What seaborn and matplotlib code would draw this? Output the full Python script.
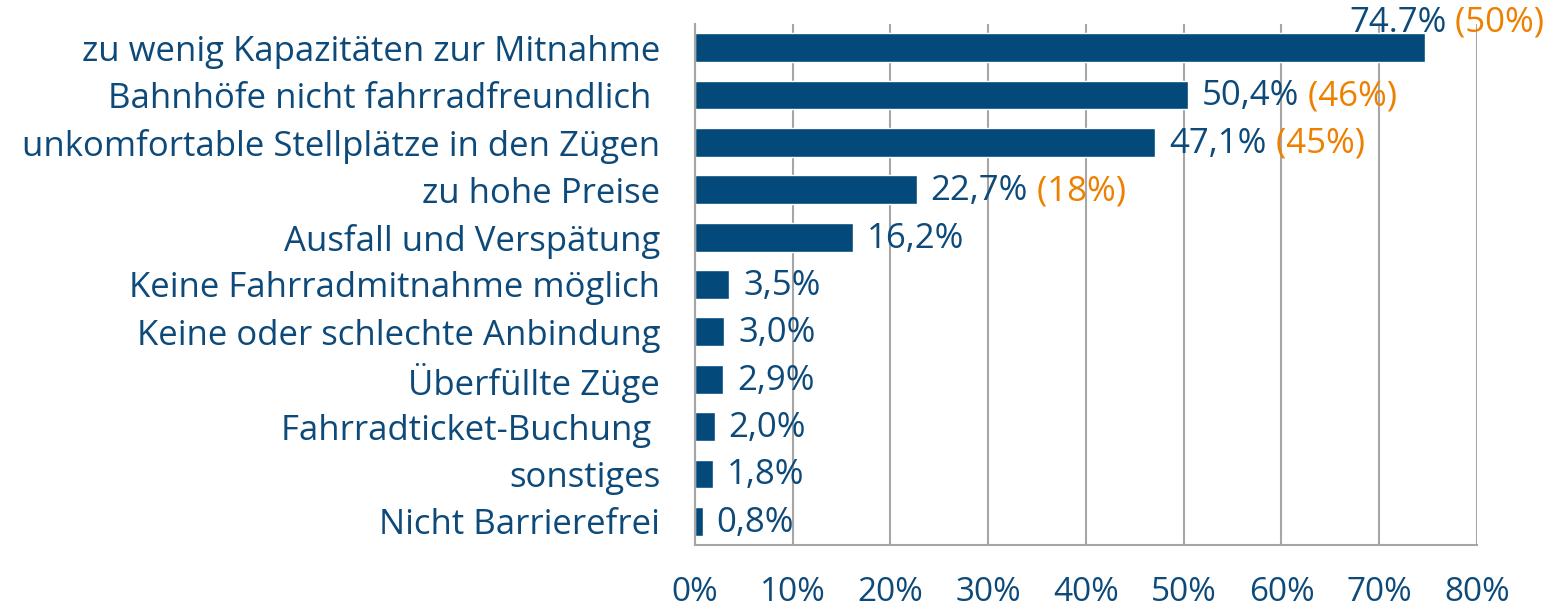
"""
Fahrradmitnahme im Zug - Probleme (horizontal bar chart)
"""

import numpy as np
import pandas as pd
import matplotlib
matplotlib.use('Agg')
import matplotlib.pyplot as plt
import seaborn as sns

# Data
categories = [
    'zu wenig Kapazitäten zur Mitnahme',
    'Bahnhöfe nicht fahrradfreundlich ',
    'unkomfortable Stellplätze in den Zügen',
    'zu hohe Preise',
    'Ausfall und Verspätung',
    'Keine Fahrradmitnahme möglich',
    'Keine oder schlechte Anbindung',
    'Überfüllte Züge',
    'Fahrradticket-Buchung ',
    'sonstiges',
    'Nicht Barrierefrei',
]
values = [74.7, 50.4, 47.1, 22.7, 16.2, 3.5, 3.0, 2.9, 2.0, 1.8, 0.8]
value_labels = ['74.7%', '50,4%', '47,1%', '22,7%', '16,2%', '3,5%', '3,0%',
                '2,9%', '2,0%', '1,8%', '0,8%']
prev_labels = ['(50%)', '(46%)', '(45%)', '(18%)', '', '', '', '', '', '', '']
x_ticks = [0, 10, 20, 30, 40, 50, 60, 70, 80]
x_ticklabels = ['0%', '10%', '20%', '30%', '40%', '50%', '60%', '70%', '80%']

BLUE = '#034a7b'
TEXT = '#0d4a7a'
ORANGE = '#ee8000'
GRAY = '#a6a6a6'
FS = 25

sns.set_style('white')
plt.rcParams['font.family'] = ['Open Sans', 'DejaVu Sans']

df = pd.DataFrame({'Grund': categories, 'Anteil': values})

fig = plt.figure(figsize=(15.43, 6.09), dpi=100)
ax = fig.add_axes([0.4504, 0.1051, 0.5068, 0.8555])

sns.barplot(data=df, y='Grund', x='Anteil', orient='h', color=BLUE,
            saturation=1, width=0.61, ax=ax)

ax.set_xlim(0, 80)
ax.set_ylim(len(categories) - 0.5, -0.5)
ax.set_xticks(x_ticks)
ax.set_xticklabels(x_ticklabels)
ax.set_xlabel('')
ax.set_ylabel('')

# vertical grid lines
ax.grid(axis='x', color=GRAY, linewidth=1.5)
ax.grid(axis='y', visible=False)
ax.set_axisbelow(True)

for side in ['top', 'right']:
    ax.spines[side].set_visible(False)
for side in ['left', 'bottom']:
    ax.spines[side].set_color(GRAY)
    ax.spines[side].set_linewidth(1.5)

# category boundary ticks on the y axis
ax.set_yticks(np.arange(-0.5, len(categories), 1.0), minor=True)
ax.tick_params(axis='y', which='major', length=0, pad=25, labelsize=FS,
               labelcolor=TEXT)
ax.tick_params(axis='y', which='minor', length=8, width=1.5, color=GRAY,
               direction='out')
ax.tick_params(axis='x', which='major', length=8, width=1.5, color=GRAY,
               pad=14, labelsize=24, labelcolor=TEXT)

# value labels
for i, (v, lab, prev) in enumerate(zip(values, value_labels, prev_labels)):
    if i == 0:
        # first label sits above the bar end
        t = ax.text(66.9, i - 0.53, lab, color=TEXT, fontsize=FS,
                    va='center', ha='left')
    else:
        t = ax.annotate(lab, xy=(v, i), xytext=(10, -1),
                        textcoords='offset points', color=TEXT, fontsize=FS,
                        va='center', ha='left')
    if prev:
        ax.annotate(' ' + prev, xy=(1, 0), xycoords=t, color=ORANGE,
                    fontsize=FS, va='bottom', ha='left')

plt.savefig('out.png', dpi=100)
print("Saved: out.png")
